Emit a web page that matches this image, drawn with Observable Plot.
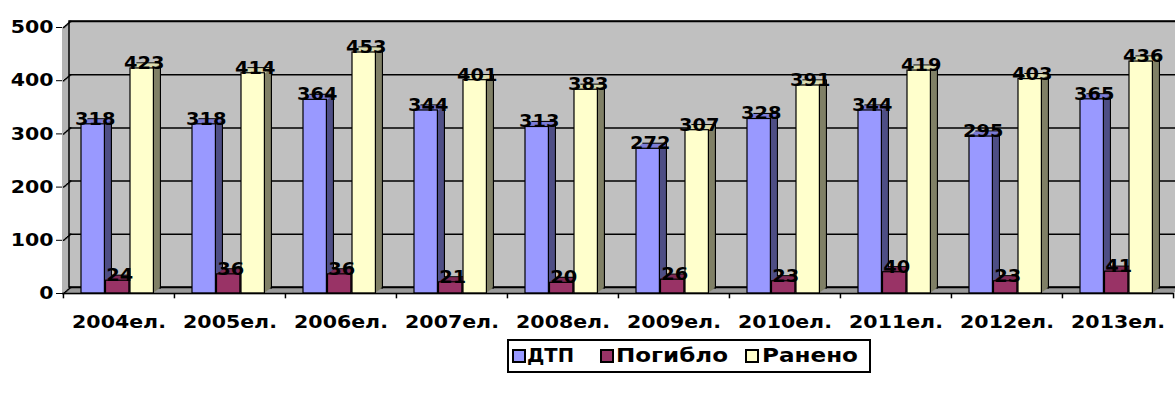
<!DOCTYPE html>
<html><head><meta charset="utf-8">
<script src="https://cdn.jsdelivr.net/npm/d3@7"></script>
<script src="https://cdn.jsdelivr.net/npm/@observablehq/plot@0.6"></script>
<style>
body{margin:0;background:#fff;overflow:hidden;width:1175px;height:404px;position:relative;font-family:"DejaVu Sans",sans-serif}
#legend{position:absolute;left:507px;top:339px;width:360px;height:30px;border:2px solid #000;background:#fff;font-weight:bold;font-size:20px;box-sizing:content-box}
#legend .sw{position:absolute;top:8px;width:10px;height:10px;border:2px solid #000}
#legend .tx{position:absolute;top:2px;line-height:24px;white-space:nowrap;transform-origin:left center}
</style></head><body>
<div id="chart"></div>
<div id="legend"></div>
<script>
const years = ["2004ел.","2005ел.","2006ел.","2007ел.","2008ел.","2009ел.","2010ел.","2011ел.","2012ел.","2013ел."];
const series = ["ДТП","Погибло","Ранено"];
const dtp = [318,318,364,344,313,272,328,344,295,365];
const killed = [24,36,36,21,20,26,23,40,23,41];
const injured = [423,414,453,401,383,307,391,419,403,436];
const yTicks = [0,100,200,300,400,500];

const values = [dtp, killed, injured];
const colors = [
  {front:"#9999ff", side:"#4f4f86", top:"#7c7cd6"},
  {front:"#993366", side:"#5a1e3c", top:"#7e2a55"},
  {front:"#ffffcc", side:"#808066", top:"#dcdcb0"}
];

const W = 1175, H = 335, mL = 62, mR = 2, mT = 27, mB = 42;
const bw = (W - mL - mR) / years.length;
const D = 7, DY = 6;      // wall depth (px)
const BD = 7, BDY = 5;    // bar depth (px)
const barLayout = [[18, 23.5], [42.5, 23.5], [67, 23.5]]; // left offset, width within each group

const marks = [];
for (let k = 0; k <= D; k++) marks.push(Plot.rect([0], {y1: 0, y2: 500, fill: "#b4b4b4", dx: k, dy: -k * DY / D}));
for (let k = 0; k <= D; k++) marks.push(Plot.ruleY([0], {stroke: "#9a9a9a", strokeWidth: 1.6, dx: k, dy: -k * DY / D}));
marks.push(Plot.rect([0], {y1: 0, y2: 500, fill: "#c0c0c0", stroke: "#000", strokeWidth: 1.5, dx: D, dy: -DY}));
marks.push(Plot.ruleY(yTicks, {stroke: "#000", strokeWidth: 1.5, dx: D, dy: -DY}));
for (let k = 0; k <= D; k++) marks.push(Plot.tickY(yTicks, {x: () => years[0], y: d => d, insetRight: bw - 1.5, stroke: "#000", strokeWidth: 1.5, dx: k, dy: -k * DY / D}));

series.forEach((s, si) => {
  const rows = years.map((yr, i) => ({year: yr, value: values[si][i], series: s}));
  const [left, width] = barLayout[si];
  const inset = {insetLeft: left, insetRight: bw - left - width};
  const c = colors[si];
  for (let k = BD; k >= 1; k--) {
    marks.push(Plot.barY(rows, {x: "year", y: "value", fill: c.side, stroke: k === BD ? "#000" : "none", strokeWidth: 1.2, ...inset, dx: k, dy: -k * BDY / BD}));
  }
  for (let k = 1; k < BD; k++) {
    marks.push(Plot.tickY(rows, {x: "year", y: "value", stroke: c.top, strokeWidth: 1.5, ...inset, dx: k, dy: -k * BDY / BD}));
  }
  marks.push(Plot.barY(rows, {x: "year", y: "value", fill: c.front, stroke: "#000", strokeWidth: 1.2, ...inset}));
});

marks.push(Plot.ruleY([0], {stroke: "#000", strokeWidth: 1.5}));
marks.push(Plot.ruleX(years, {x: d => d, y1: 0, y2: -10, dx: -bw / 2, stroke: "#000", strokeWidth: 1.5}));
marks.push(Plot.ruleX([years[years.length - 1]], {x: d => d, y1: 0, y2: -10, dx: bw / 2, stroke: "#000", strokeWidth: 1.5}));

series.forEach((s, si) => {
  const rows = years.map((yr, i) => ({year: yr, value: values[si][i]}));
  const [left, width] = barLayout[si];
  marks.push(Plot.text(rows, {x: "year", y: "value", text: d => String(d.value), dx: left + width / 2 + 2 - bw / 2, dy: -5, fontSize: 17, fontWeight: "bold", fill: "#000"}));
});

const chart = Plot.plot({
  width: W, height: H,
  marginLeft: mL, marginRight: mR, marginTop: mT, marginBottom: mB,
  style: {fontFamily: "DejaVu Sans", fontSize: "18px", fontWeight: "bold", color: "#000", background: "#fff", overflow: "hidden"},
  x: {type: "band", domain: years, padding: 0, tickSize: 0, tickPadding: 22, label: null},
  y: {domain: [0, 500], ticks: 5, tickSize: 6, tickPadding: 3, line: true, label: null},
  marks
});
document.getElementById("chart").appendChild(chart);

// widen glyphs slightly (the reference's text is horizontally stretched)
const SX = 1.14;
chart.querySelectorAll("text").forEach(t => {
  const anchor = getComputedStyle(t).textAnchor;
  const b = t.getBBox();
  const px = anchor === "end" ? b.x + b.width : anchor === "start" ? b.x : b.x + b.width / 2;
  const prev = t.getAttribute("transform") || "";
  t.setAttribute("transform", `${prev} translate(${px},0) scale(${SX},1) translate(${-px},0)`.trim());
});

const legend = document.getElementById("legend");
const swLeft = [3, 91, 236], txLeft = [18, 107, 253], txWidth = [47, 112, 96];
series.forEach((s, si) => {
  const sw = document.createElement("span");
  sw.className = "sw";
  sw.style.left = swLeft[si] + "px";
  sw.style.background = colors[si].front;
  const tx = document.createElement("span");
  tx.className = "tx";
  tx.style.left = txLeft[si] + "px";
  tx.textContent = s;
  legend.appendChild(sw); legend.appendChild(tx);
  const w = tx.getBoundingClientRect().width;
  tx.style.transform = `scaleX(${txWidth[si] / w})`;
});
</script>
</body></html>
